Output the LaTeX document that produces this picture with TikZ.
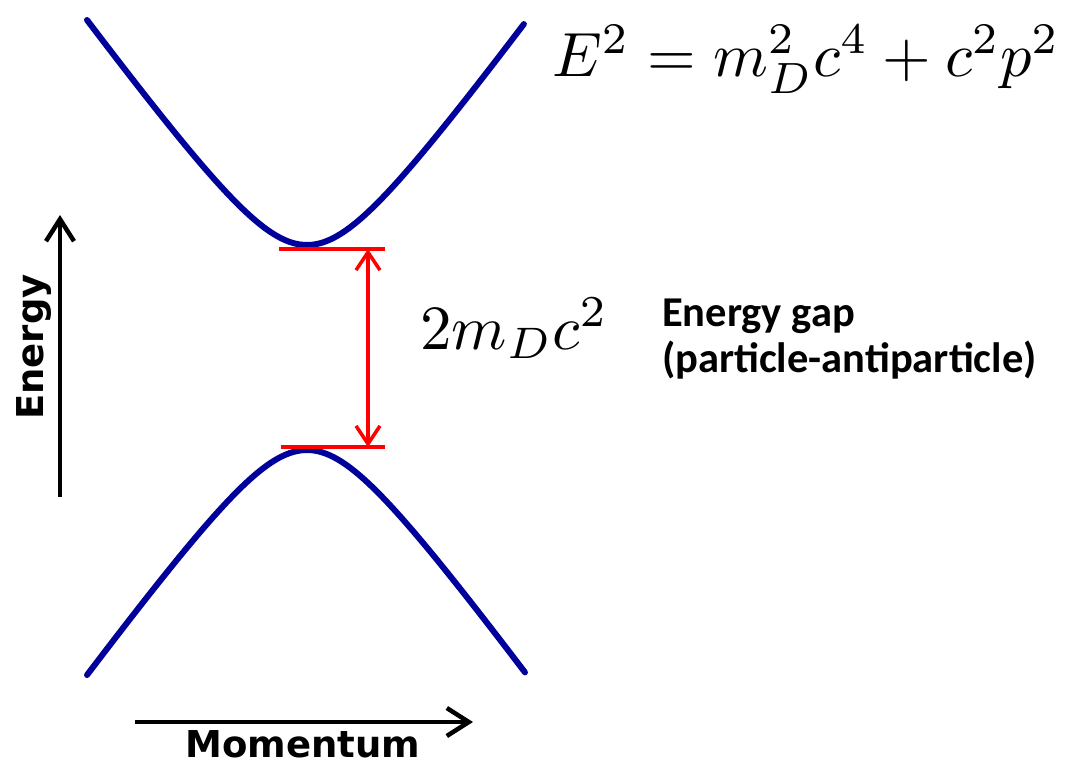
\documentclass[tikz,border=0pt]{standalone}
\usepackage{fontspec}
\usetikzlibrary{arrows.meta}
\newfontfamily\axisfont{DejaVu Sans}[BoldFont={DejaVu Sans Bold}]
\newfontfamily\gapfont{Carlito}
\definecolor{curveblue}{RGB}{0,0,155}
\definecolor{gapred}{RGB}{255,0,0}
\tikzset{
  band/.style={curveblue, line width=6pt, line cap=round, line join=round},
  gapline/.style={gapred, line width=3.5pt},
  gaparrow/.style={gapred, line width=3.5pt, {Straight Barb[length=18pt,width=24pt]}-{Straight Barb[length=18pt,width=24pt]}},
  axisarrow/.style={black, line width=4.5pt, -{Straight Barb[length=22pt,width=28pt]}},
  axislabel/.style={inner sep=0pt, font=\axisfont\bfseries\fontsize{37}{42}\selectfont},
  gaplabel/.style={inner sep=0pt, anchor=base west, font=\gapfont\bfseries\fontsize{42.5}{46}\selectfont},
  mathlabel/.style={inner sep=0pt, anchor=base west}
}
\begin{document}
\begin{tikzpicture}[x=1pt,y=-1pt]
\useasboundingbox (0,0) rectangle (1069,764);
% bands
\draw[band] plot[domain=-2.2:2.17, samples=120, smooth] ({307+100*\x}, {245+90-100*sqrt(0.81+1.883*\x*\x)});
\draw[band] plot[domain=-2.2:2.18, samples=120, smooth] ({307+100*\x}, {450-90+100*sqrt(0.81+1.883*\x*\x)});
% gap
\coordinate (gtopL) at (279,249);
\coordinate (gtopR) at (385,249);
\coordinate (gbotL) at (281,447);
\coordinate (gbotR) at (385,447);
\coordinate (gtop) at (368,249);
\coordinate (gbot) at (368,447);
\draw[gapline] (gtopL) -- (gtopR);
\draw[gapline] (gbotL) -- (gbotR);
\draw[gaparrow] (gtop) -- (gbot);
% axes
\coordinate (e0) at (60,497);
\coordinate (e1) at (60,215);
\draw[axisarrow] (e0) -- (e1);
\coordinate (m0) at (135,722);
\coordinate (m1) at (473,722);
\draw[axisarrow] (m0) -- (m1);
\node[axislabel, rotate=90, anchor=base] (energy) at (43,347) {Energy};
\node[axislabel, anchor=base] (momentum) at (303,757) {Momentum};
% labels
\node[mathlabel] (disp) at (552,76) {\scalebox{6.25}{$E^2 = m_D^2c^4 + c^2p^2$}};
\node[mathlabel] (gapval) at (420,349) {\scalebox{6.3}{$2m_Dc^2$}};
\node[gaplabel] (gap1) at (662,326) {Energy gap};
\node[gaplabel] (gap2) at (662,372) {(particle-antiparticle)};
\end{tikzpicture}
\end{document}
